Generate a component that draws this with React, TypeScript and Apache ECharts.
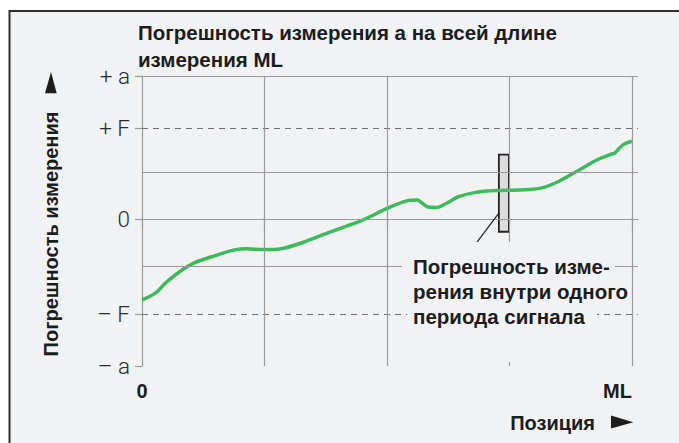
import React, { useEffect, useRef } from 'react';
import * as echarts from 'echarts';

// Position along measuring length (ML = 4 grid divisions)
const positions = [0, 0.109, 0.198, 0.321, 0.427, 0.605, 0.746, 0.852, 0.993, 1.135, 1.311, 1.524, 1.806, 2.001, 2.161, 2.248, 2.283, 2.337, 2.406, 2.479, 2.586, 2.725, 2.903, 3.08, 3.258, 3.4, 3.574, 3.717, 3.823, 3.858, 3.929, 4.0];
// Measurement error (grid units)
const errors = [-1.7, -1.56, -1.33, -1.08, -0.92, -0.76, -0.65, -0.62, -0.64, -0.62, -0.49, -0.28, -0.01, 0.23, 0.39, 0.41, 0.35, 0.26, 0.25, 0.33, 0.48, 0.57, 0.61, 0.62, 0.66, 0.8, 1.05, 1.26, 1.37, 1.4, 1.58, 1.65];

const yTickValues = [3.03, 1.93, 0, -2.01, -3.1];
const yTickLabels = ['+ a', '+ F', '0', '– F', '– a'];
const solidGridY = [3.03, 1, 0, -1];
const dashedGridY = [1.93, -2.01];
const gridX = [1, 2, 3, 4];
const xTickValues = [0, 1, 2, 3, 4];
const xLabelValues = [0, 4];
const xLabels = ['0', 'ML'];
const periodBoxX = [2.914, 2.996];
const periodBoxY = [-0.262, 1.366];
const leaderFrom = [2.914, 0.133];
const leaderTo = [2.737, -0.474];

const titleText = 'Погрешность измерения а на всей длине\nизмерения ML';
const yName = 'Погрешность измерения';
const xName = 'Позиция';
const noteLines = ['Погрешность изме-', 'рения внутри одного', 'периода сигнала'];

const FONT = '"Liberation Sans", Arial, Helvetica, sans-serif';
const BG = '#f1f2f4';
const GRID = '#9a9a9a';
const INK = '#1c1c1c';

export default function App() {
  const ref = useRef<HTMLDivElement>(null);
  useEffect(() => {
    if (!ref.current) return;
    const chart = echarts.init(ref.current, undefined, { renderer: 'svg' });
    const lineData = positions.map((p, i) => [p, errors[i]]);
    const gridLines: any[] = [
      ...solidGridY.map((v) => ({ yAxis: v })),
      ...dashedGridY.map((v) => ({ yAxis: v, lineStyle: { type: [6, 5], color: '#6f6f6f', width: 1.2 } })),
      ...gridX.map((v) => ({ xAxis: v })),
    ];
    const noteY = [266.7, 291.7, 316.7];
    // background patches behind the note text (x0, y0, x1, y1)
    const notePatches = [
      [402, 242, 615, 279],
      [402, 279, 631, 304],
      [407, 304, 597, 362],
    ];
    chart.setOption({
      animation: false,
      backgroundColor: '#ffffff',
      title: {
        text: titleText,
        left: 138,
        top: 19,
        padding: 0,
        textStyle: { fontFamily: FONT, fontSize: 20.5, fontWeight: 'bold', lineHeight: 27, color: INK },
      },
      grid: { left: 142, right: 41, top: 76, bottom: 77, containLabel: false },
      xAxis: {
        type: 'value',
        min: 0,
        max: 4.05,
        axisLine: { show: true, lineStyle: { color: GRID, width: 1.2 } },
        axisTick: { show: true, customValues: xTickValues, length: 7, lineStyle: { color: GRID, width: 1.2 } },
        splitLine: { show: false },
        axisLabel: {
          customValues: xLabelValues,
          formatter: (v: number) => xLabels[xLabelValues.indexOf(v)] ?? '',
          alignMaxLabel: 'right',
          margin: 15,
          fontFamily: FONT,
          fontSize: 20,
          fontWeight: 'bold',
          color: INK,
        },
      },
      yAxis: {
        type: 'value',
        min: -3.1,
        max: 3.03,
        axisLine: { show: true, lineStyle: { color: GRID, width: 1.2 } },
        axisTick: { show: true, customValues: yTickValues, length: 7, lineStyle: { color: GRID, width: 1.2 } },
        splitLine: { show: false },
        axisLabel: {
          customValues: yTickValues,
          formatter: (v: number) => yTickLabels[yTickValues.indexOf(v)] ?? '',
          margin: 12,
          fontFamily: 'Roboto, "Liberation Sans", sans-serif',
          fontWeight: 300,
          fontSize: 22.5,
          color: '#2a2a2a',
        },
      },
      series: [
        {
          type: 'line',
          data: [],
          z: 1,
          silent: true,
          markLine: {
            silent: true,
            symbol: ['none', 'none'],
            label: { show: false },
            lineStyle: { color: GRID, width: 1.2, type: 'solid' },
            data: gridLines,
          },
        },
        {
          type: 'line',
          data: lineData,
          z: 3,
          smooth: 0.35,
          showSymbol: false,
          lineStyle: { color: '#3dba5c', width: 3.5 },
          itemStyle: { color: '#3dba5c' },
        },
        {
          type: 'line',
          data: [],
          z: 4,
          silent: true,
          markArea: {
            silent: true,
            itemStyle: { color: '#dcdcdc', borderColor: '#222', borderWidth: 1.8 },
            data: [[{ xAxis: periodBoxX[0], yAxis: periodBoxY[0] }, { xAxis: periodBoxX[1], yAxis: periodBoxY[1] }]],
          },
          markLine: {
            silent: true,
            symbol: ['none', 'none'],
            label: { show: false },
            lineStyle: { color: '#222', width: 1.2, type: 'solid' },
            data: [[{ coord: leaderFrom }, { coord: leaderTo }]],
          },
        },
      ],
      graphic: [
        {
          type: 'rect',
          z: -10,
          shape: { x: 9.5, y: 11, width: 720, height: 480 },
          style: { fill: BG, stroke: '#2e2e2e', lineWidth: 2 },
        },
        {
          type: 'text',
          z: 10,
          x: 50.6,
          y: 234,
          rotation: Math.PI / 2,
          style: { text: yName, font: `bold 20px ${FONT}`, fill: INK, align: 'center', verticalAlign: 'middle' },
        },
        {
          type: 'polygon',
          z: 10,
          shape: { points: [[51, 72], [45, 93.3], [56.7, 93.3]] },
          style: { fill: INK },
        },
        {
          type: 'text',
          z: 10,
          x: 595,
          y: 422.7,
          style: { text: xName, font: `bold 20px ${FONT}`, fill: INK, align: 'right', verticalAlign: 'middle' },
        },
        {
          type: 'polygon',
          z: 10,
          shape: { points: [[611, 415.5], [611, 428.5], [633.3, 422.3]] },
          style: { fill: INK },
        },
        ...notePatches.map((p) => ({
          type: 'rect',
          z: 8,
          silent: true,
          shape: { x: p[0], y: p[1], width: p[2] - p[0], height: p[3] - p[1] },
          style: { fill: BG },
        })),
        ...noteLines.map((t, i) => ({
          type: 'text',
          z: 9,
          x: 413,
          y: noteY[i],
          style: {
            text: t,
            font: `bold 20.5px ${FONT}`,
            fill: INK,
            align: 'left',
            verticalAlign: 'middle',
          },
        })),
      ],
    });
    return () => chart.dispose();
  }, []);
  return (
    <div
      ref={ref}
      style={{ position: 'fixed', left: 0, top: 0, width: 679, height: 443 }}
    />
  );
}
